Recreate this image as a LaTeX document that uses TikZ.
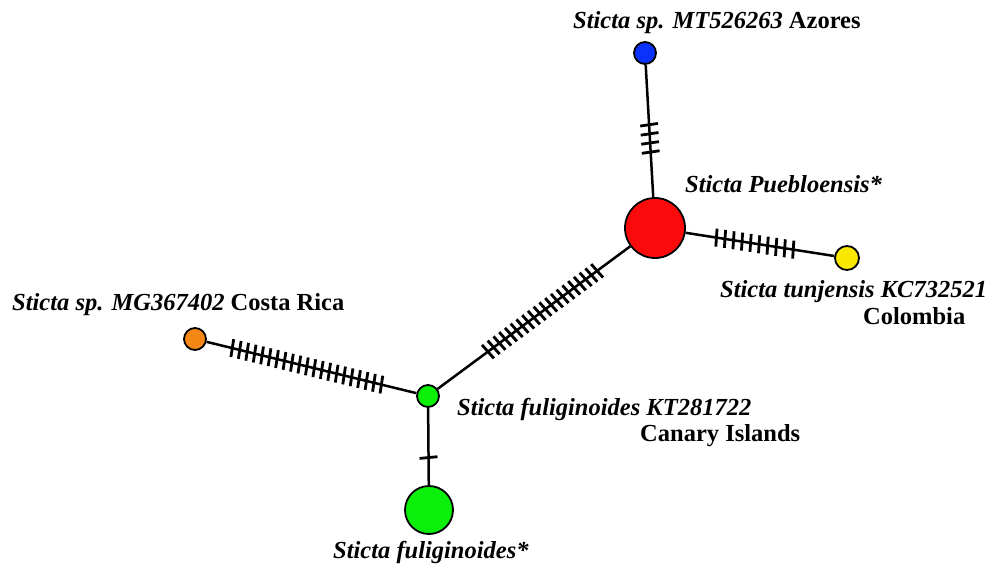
\documentclass[tikz,border=0pt]{standalone}
\usepackage{fontspec}
\setmainfont{Liberation Serif}
\usetikzlibrary{calc}

% ticks marking mutational steps along the segment between two haplotypes
% #1,#2: node names; #3: number of ticks; #4,#5: first/last position (fraction)
\newcommand\mutations[5]{%
  \foreach \k in {1,...,#3}{%
    \pgfmathsetmacro\mutpos{#4+(\k-1)*(#5-#4)/max(#3-1,1)}%
    \coordinate (mut) at ($(#1)!\mutpos!(#2)$);
    \draw[tickmark] ($(mut)!9pt!95:(#2)$) -- ($(mut)!9pt!-85:(#2)$);
  }%
}

\begin{document}
\begin{tikzpicture}[x=1pt,y=-1pt,
  hap/.style={circle, draw=black, line width=1.8pt, inner sep=0pt},
  link/.style={line width=2.5pt},
  tickmark/.style={line width=2.8pt},
  lbl/.style={font=\fontsize{24.5}{28}\selectfont\bfseries, anchor=base west, inner sep=0pt}]
  \useasboundingbox (0,0) rectangle (993,564);

  \definecolor{hblue}{RGB}{10,50,250}
  \definecolor{hred}{RGB}{250,10,10}
  \definecolor{hyellow}{RGB}{250,232,0}
  \definecolor{horange}{RGB}{245,135,20}
  \definecolor{hgreen}{RGB}{10,240,10}

  % haplotypes
  \node[hap, fill=hblue,   minimum size=22pt] (azo) at (645,53) {};
  \node[hap, fill=hred,    minimum size=60pt] (pue) at (655,228) {};
  \node[hap, fill=hyellow, minimum size=24pt] (tun) at (847,258) {};
  \node[hap, fill=horange, minimum size=22pt] (cri) at (195,339) {};
  \node[hap, fill=hgreen,  minimum size=22pt] (can) at (428,396) {};
  \node[hap, fill=hgreen,  minimum size=48pt] (ful) at (429,510) {};

  % connections
  \draw[link] (azo) -- (pue);
  \draw[link] (pue) -- (tun);
  \draw[link] (pue) -- (can);
  \draw[link] (cri) -- (can);
  \draw[link] (can) -- (ful);

  % mutational steps
  \mutations{azo}{pue}{4}{0.41}{0.566}
  \mutations{pue}{tun}{10}{0.32}{0.72}
  \mutations{pue}{can}{20}{0.255}{0.736}
  \mutations{cri}{can}{21}{0.16}{0.80}
  \mutations{can}{ful}{1}{0.54}{0.54}

  % labels
  \node[lbl] (lazo) at (573,29) {\textit{Sticta sp. MT526263} Azores};
  \node[lbl] (lpue) at (685,193) {\textit{Sticta Puebloensis*}};
  \node[lbl] (ltun) at (720,297) {\textit{Sticta tunjensis KC732521}};
  \node[lbl] (ltun2) at (863,324) {Colombia};
  \node[lbl] (lcri) at (12,310) {\textit{Sticta sp. MG367402} Costa Rica};
  \node[lbl] (lcan) at (457,415) {\textit{Sticta fuliginoides KT281722}};
  \node[lbl] (lcan2) at (640,441) {Canary Islands};
  \node[lbl] (lful) at (333,558) {\textit{Sticta fuliginoides*}};
\end{tikzpicture}
\end{document}
